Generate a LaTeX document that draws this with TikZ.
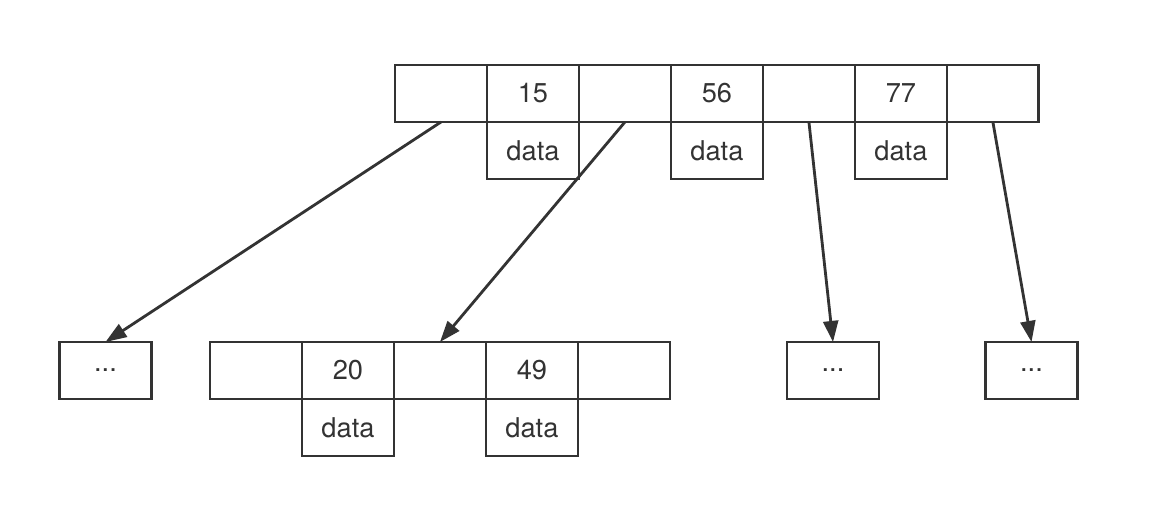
\documentclass[tikz,border=0pt]{standalone}
\usepackage{fontspec}
\setmainfont{TeX Gyre Heros}
\definecolor{inkgray}{RGB}{51,51,51}
\usetikzlibrary{arrows.meta,positioning}

\begin{document}
\begin{tikzpicture}[
      x=0.02cm, y=-0.02cm,
      arr/.style={-{Triangle[length=12pt,width=8.5pt]}, line width=1.6pt, inkgray},
      cell/.style={draw=inkgray, line width=1.6pt, minimum width=1.84cm,
                   minimum height=1.14cm, inner sep=0pt, outer sep=0pt,
                   text=inkgray, font=\fontsize{15.5}{18}\selectfont}
    ]
    \useasboundingbox (0,0) rectangle (1174,530);

    % root node
    \node[cell] (t1) at (441,93.5) {};
    \node[cell, right=0pt of t1] (t2) {15};
    \node[cell, right=0pt of t2] (t3) {};
    \node[cell, right=0pt of t3] (t4) {56};
    \node[cell, right=0pt of t4] (t5) {};
    \node[cell, right=0pt of t5] (t6) {77};
    \node[cell, right=0pt of t6] (t7) {};
    \node[cell, below=0pt of t2] (d2) {data};
    \node[cell, below=0pt of t4] (d4) {data};
    \node[cell, below=0pt of t6] (d6) {data};

    % second level
    \node[cell] (b1) at (256,370.5) {};
    \node[cell, right=0pt of b1] (b2) {20};
    \node[cell, right=0pt of b2] (b3) {};
    \node[cell, right=0pt of b3] (b4) {49};
    \node[cell, right=0pt of b4] (b5) {};
    \node[cell, below=0pt of b2] (e2) {data};
    \node[cell, below=0pt of b4] (e4) {data};

    \node[cell] (l1) at (105.5,370.5) {...};
    \node[cell] (l2) at (833,370.5) {...};
    \node[cell] (l3) at (1031.5,370.5) {...};

    \draw[arr] (t1.south) -- (l1.north);
    \draw[arr] (t3.south) -- (b3.north);
    \draw[arr] (t5.south) -- (l2.north);
    \draw[arr] (t7.south) -- (l3.north);
  \end{tikzpicture}
\end{document}
